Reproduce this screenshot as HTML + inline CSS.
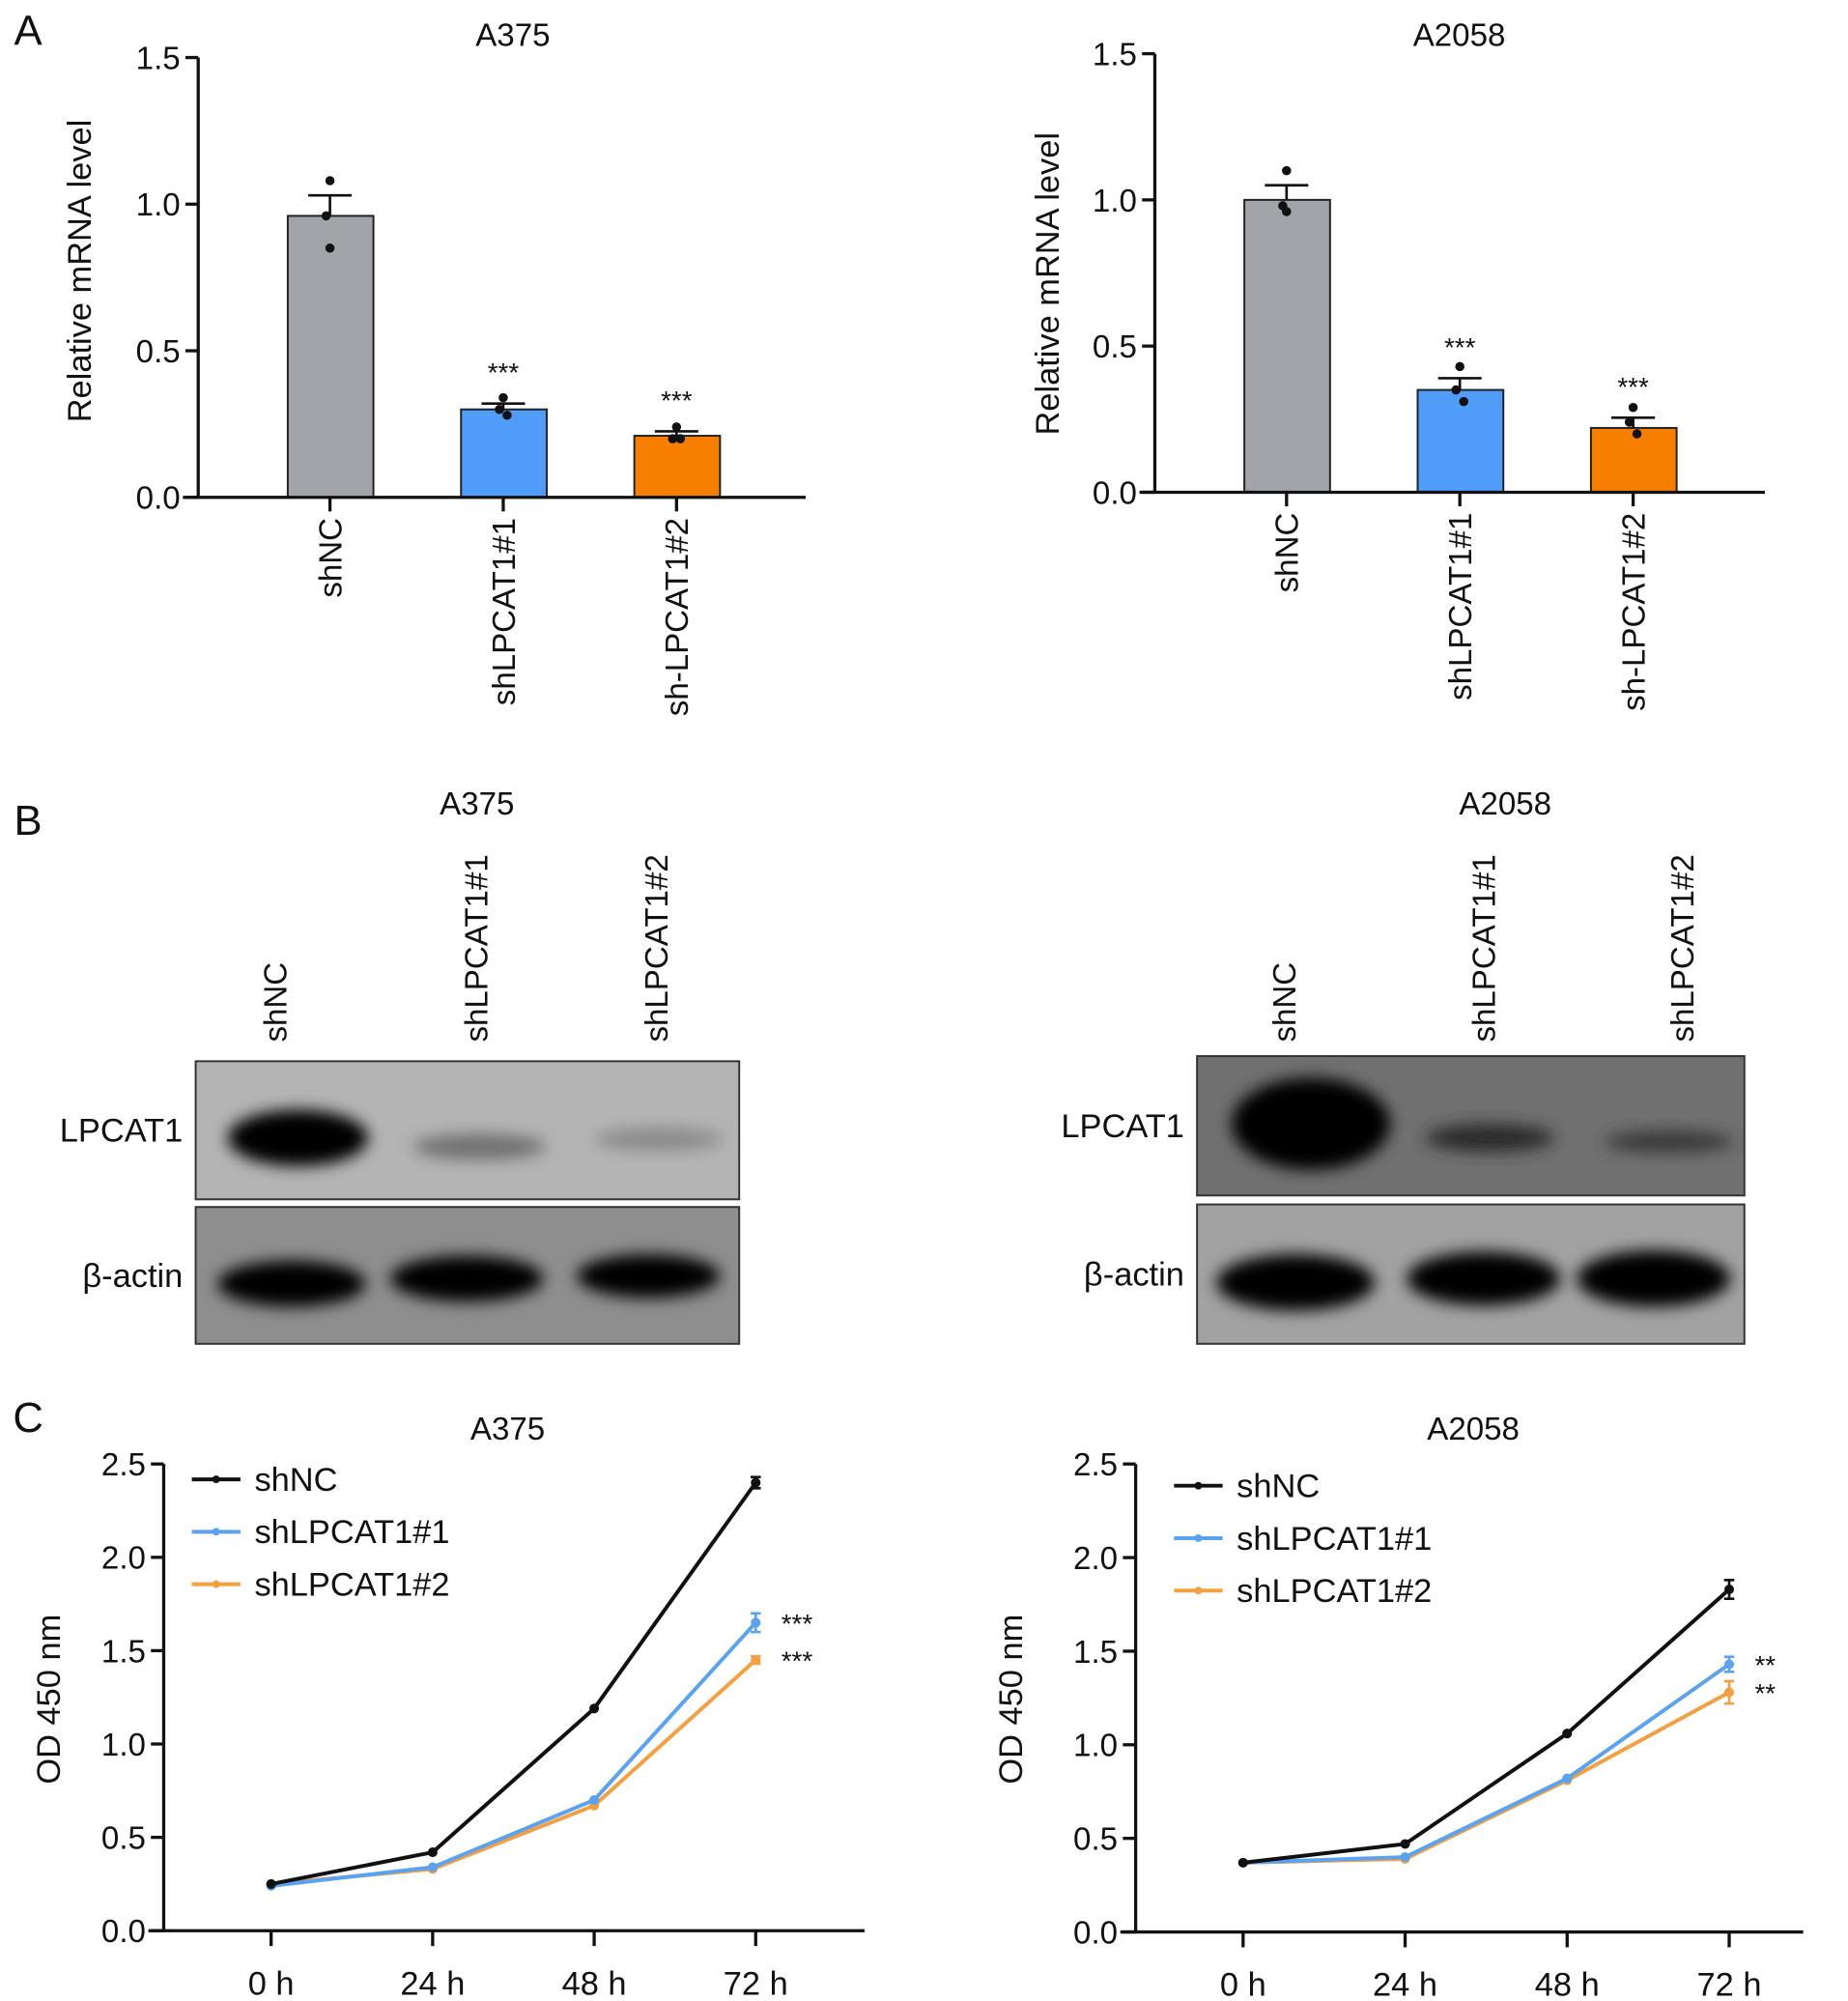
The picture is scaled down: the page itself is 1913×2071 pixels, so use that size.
<!DOCTYPE html>
<html><head><meta charset="utf-8"><style>
html,body{margin:0;padding:0;background:#fff;}
svg{display:block;font-family:"Liberation Sans",Arial,sans-serif;}
</style></head><body>
<svg id="fig" width="1913" height="2071" viewBox="0 0 1445 1565" preserveAspectRatio="none" xmlns="http://www.w3.org/2000/svg">
<defs>
<filter id="blur6" x="-50%" y="-50%" width="200%" height="200%"><feGaussianBlur stdDeviation="6"/></filter>
</defs>
<g id="root"></g>
</svg>
<script>
// ---- Panel A data ----
const barCats = ["shNC","shLPCAT1#1","sh-LPCAT1#2"];
const barColors = ["#a3a3aa","#4f9cf9","#f77f00"];
const a375Means = [0.96, 0.30, 0.21];
const a375Err = [0.07, 0.02, 0.015];
const a375Dots = [[1.08,0.96,0.85],[0.34,0.30,0.28],[0.24,0.20,0.20]];
const a375Stars = ["","***","***"];
const a2058Means = [1.00, 0.35, 0.22];
const a2058Err = [0.05, 0.04, 0.035];
const a2058Dots = [[1.10,0.98,0.96],[0.43,0.35,0.31],[0.29,0.24,0.20]];
const a2058Stars = ["","***","***"];
const barTicks = [0, 0.5, 1.0, 1.5];
const barTickLabels = ["0.0","0.5","1.0","1.5"];
// ---- Panel C data ----
const timeCats = ["0 h","24 h","48 h","72 h"];
const seriesNames = ["shNC","shLPCAT1#1","shLPCAT1#2"];
const lineColors = ["#111111","#5aa2f2","#f5a040"];
const c375NC = [0.25, 0.42, 1.19, 2.40];
const c375S1 = [0.24, 0.34, 0.70, 1.65];
const c375S2 = [0.25, 0.33, 0.67, 1.45];
const c375Err = [0.03, 0.05, 0.02];
const c375Stars = ["","***","***"];
const c2058NC = [0.37, 0.47, 1.06, 1.83];
const c2058S1 = [0.37, 0.40, 0.82, 1.43];
const c2058S2 = [0.37, 0.39, 0.81, 1.28];
const c2058Err = [0.05, 0.04, 0.06];
const c2058Stars = ["","**","**"];
const lineTicks = [0, 0.5, 1.0, 1.5, 2.0, 2.5];
const lineTickLabels = ["0.0","0.5","1.0","1.5","2.0","2.5"];

const NS="http://www.w3.org/2000/svg";
const root=document.getElementById('root');
function mk(tag,attrs,parent){const e=document.createElementNS(NS,tag);for(const k in attrs)e.setAttribute(k,attrs[k]);(parent||root).appendChild(e);return e;}
function txt(s,x,y,size,anchor,parent,rot){const t=mk('text',{x:x,y:y,'font-size':size,'text-anchor':anchor||'middle',fill:'#111'},parent);if(rot)t.setAttribute('transform','rotate(-90 '+x+' '+y+')');t.textContent=s;return t;}

function barChart(o){
  const g=mk('g',{});
  
  
  const y=v=>o.y0-(v/1.5)*(o.y0-o.y15);
  const xc=i=>o.x0+i*o.step;
  o.means.forEach((m,i)=>{
    const r=mk('rect',{x:xc(i)-33,y:y(m),width:67,height:o.y0-y(m),fill:barColors[i],stroke:'#222','stroke-width':1.5},g);
    
    
    const et=y(m+o.err[i]);
    mk('line',{x1:xc(i),x2:xc(i),y1:y(m),y2:et,stroke:'#111','stroke-width':2},g);
    mk('line',{x1:xc(i)-17,x2:xc(i)+17,y1:et,y2:et,stroke:'#111','stroke-width':2},g);
    o.dots[i].forEach((d,j)=>{
      const c=mk('circle',{cx:xc(i)+(j==1?-3:0)+(j==2&&i>0?3:0),cy:y(d),r:3.6,fill:'#111'},g);
      
      
    });
    if(o.stars[i]) txt(o.stars[i],xc(i),y(m+o.err[i])-17,21,'middle',g);
    mk('line',{x1:xc(i),x2:xc(i),y1:o.y0,y2:o.y0+11,stroke:'#111','stroke-width':2.5},g);
    const lt=txt(barCats[i],xc(i)+9,o.y0+16,25,'end',g,true);
    
    
  });
  mk('line',{x1:o.ax,x2:o.ax,y1:o.y15,y2:o.y0,stroke:'#111','stroke-width':2.5},g);
  mk('line',{x1:o.ax-12,x2:o.xEnd,y1:o.y0,y2:o.y0,stroke:'#111','stroke-width':2.5},g);
  barTicks.forEach((t,i)=>{
    mk('line',{x1:o.ax-10,x2:o.ax,y1:y(t),y2:y(t),stroke:'#111','stroke-width':2.5},g);
    txt(barTickLabels[i],o.ax-14,y(t)+9,25,'end',g);
  });
  const yl=txt('Relative mRNA level',o.ylx,o.yly,26,'middle',g,true);
  
  
  const ti=txt(o.title,o.tx,36,25,'middle',g);
  
  
}
barChart({name:'bar-chart-a375',ax:155,y0:389,y15:45,x0:258,step:135.5,xEnd:630,means:a375Means,err:a375Err,dots:a375Dots,stars:a375Stars,ylx:71,yly:212,title:'A375',tx:401});
barChart({name:'bar-chart-a2058',ax:903,y0:385,y15:42,x0:1006,step:135.5,xEnd:1380,means:a2058Means,err:a2058Err,dots:a2058Dots,stars:a2058Stars,ylx:828,yly:222,title:'A2058',tx:1141});

function lineChart(o){
  const g=mk('g',{});
  
  
  const y=v=>o.y0-(v/2.5)*(o.y0-o.y25);
  const xc=i=>o.xs+i*o.step;
  mk('line',{x1:o.ax,x2:o.ax,y1:o.y25,y2:o.y0,stroke:'#111','stroke-width':2.5},g);
  mk('line',{x1:o.ax-12,x2:o.xEnd,y1:o.y0,y2:o.y0,stroke:'#111','stroke-width':2.5},g);
  lineTicks.forEach((t,i)=>{
    mk('line',{x1:o.ax-10,x2:o.ax,y1:y(t),y2:y(t),stroke:'#111','stroke-width':2.5},g);
    txt(lineTickLabels[i],o.ax-14,y(t)+9,25,'end',g);
  });
  timeCats.forEach((c,i)=>{
    mk('line',{x1:xc(i),x2:xc(i),y1:o.y0,y2:o.y0+12,stroke:'#111','stroke-width':2.5},g);
    const t=txt(c,xc(i),o.y0+50,26,'middle',g);
    
    
  });
  [o.s2,o.s1,o.nc].forEach((s,k)=>{
    const si=2-k;
    const pts=s.map((v,i)=>xc(i)+','+y(v)).join(' ');
    const pl=mk('polyline',{points:pts,fill:'none',stroke:lineColors[si],'stroke-width':3},g);
    
    
    s.forEach((v,i)=>{
      const c=mk('circle',{cx:xc(i),cy:y(v),r:3.8,fill:lineColors[si]},g);
      
      
    });
    const e=o.err[si], top=y(s[3]+e), bot=y(s[3]-e);
    mk('line',{x1:xc(3),x2:xc(3),y1:top,y2:bot,stroke:lineColors[si],'stroke-width':2},g);
    mk('line',{x1:xc(3)-4,x2:xc(3)+4,y1:top,y2:top,stroke:lineColors[si],'stroke-width':2},g);
    mk('line',{x1:xc(3)-4,x2:xc(3)+4,y1:bot,y2:bot,stroke:lineColors[si],'stroke-width':2},g);
    if(o.stars[si]) txt(o.stars[si],xc(3)+20,y(s[3])+8,21,'start',g);
  });
  seriesNames.forEach((n,i)=>{
    const ly=o.ly+i*41;
    const lg=mk('g',{},g);
    
    
    mk('line',{x1:o.lx,x2:o.lx+38,y1:ly,y2:ly,stroke:lineColors[i],'stroke-width':3},lg);
    mk('circle',{cx:o.lx+19,cy:ly,r:3,fill:lineColors[i]},lg);
    txt(n,o.lx+49,ly+9,26,'start',lg);
  });
  const yl=txt('OD 450 nm',o.ylx,o.yly,26,'middle',g,true);
  
  
  const ti=txt(o.title,o.tx,1126,25,'middle',g);
  
  
}
lineChart({name:'line-chart-a375',ax:128,y0:1510,y25:1145,xs:212,step:126.3,xEnd:676,nc:c375NC,s1:c375S1,s2:c375S2,err:c375Err,stars:c375Stars,lx:150,ly:1157,ylx:47,yly:1329,title:'A375',tx:397});
lineChart({name:'line-chart-a2058',ax:888,y0:1511,y25:1145,xs:972,step:126.7,xEnd:1410,nc:c2058NC,s1:c2058S1,s2:c2058S2,err:c2058Err,stars:c2058Stars,lx:918,ly:1162,ylx:799,yly:1329,title:'A2058',tx:1152});

[['A',22,35],['B',22,653],['C',22,1120]].forEach(p=>{
  const t=txt(p[0],p[1],p[2],33,'middle');
  
  
});

// ---- Panel B blots ----
const laneLabels=["shNC","shLPCAT1#1","shLPCAT1#2"];
function blot(o){
  const g=mk('g',{});
  
  
  const t=txt(o.title,o.tx,637,25,'middle',g);
  
  
  laneLabels.forEach((l,i)=>{
    const lt=txt(l,o.lanes[i]+9,o.laneBottom,25,'start',g,true);
    
    
  });
  [[o.top,o.bg1,o.b1,'LPCAT1'],[o.bot,o.bg2,o.b2,'β-actin']].forEach(([r,bg,bands,lab])=>{
    const cp='cp'+o.name+lab.length;
    const c=mk('clipPath',{id:cp},g);mk('rect',{x:o.x,y:r[0],width:o.w,height:r[1]-r[0]},c);
    const rr=mk('rect',{x:o.x,y:r[0],width:o.w,height:r[1]-r[0],fill:bg,stroke:'#333','stroke-width':1.5},g);
    
    
    const bg2=mk('g',{'clip-path':'url(#'+cp+')'},g);
    bands.forEach(b=>mk('ellipse',{cx:b[0],cy:b[1],rx:b[2],ry:b[3],fill:b[4]||'#000',filter:'url(#blur6)'},bg2));
    const lt=txt(lab,o.x-10,(r[0]+r[1])/2+9,26,'end',g);
    
    
  });
}
blot({name:'blot-a375',title:'A375',tx:373,x:153,w:425,top:[830,938],bot:[944,1051],lanes:[215,372,513],laneBottom:815,bg1:'#b4b4b4',bg2:'#8e8e8e',
  b1:[[233,890,55,22],[375,897,52,10,'#707070'],[515,891,50,9,'#8a8a8a']],
  b2:[[228,1004,58,18],[365,1000,60,18],[507,998,56,17]]});
blot({name:'blot-a2058',title:'A2058',tx:1177,x:936,w:428,top:[826,935],bot:[942,1051],lanes:[1004,1160,1315],laneBottom:815,bg1:'#707070',bg2:'#a2a2a2',
  b1:[[1025,879,62,36],[1165,890,50,11,'#2a2a2a'],[1305,893,50,9,'#3a3a3a']],
  b2:[[1013,1003,62,22],[1160,1000,60,21],[1293,1000,60,22]]});
</script>
</body></html>
